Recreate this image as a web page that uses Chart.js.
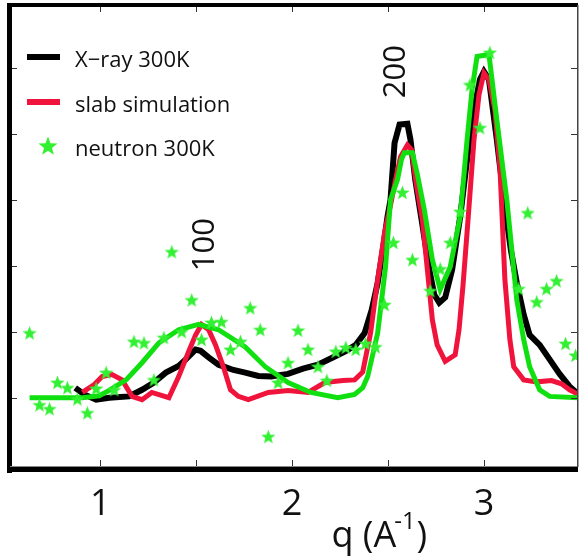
<!DOCTYPE html>
<html>
<head>
<meta charset="utf-8">
<script src="https://cdn.jsdelivr.net/npm/chart.js@4"></script>
<style>
  html, body { margin: 0; padding: 0; background: #fff; }
  #wrap { width: 583px; height: 560px; }
</style>
</head>
<body>
<div id="wrap"><canvas id="chart" width="583" height="560"></canvas></div>
<script>
// X-ray 300K (q, intensity)
const xrayQ = [0.870, 0.917, 0.979, 1.047, 1.150, 1.218, 1.280, 1.342, 1.409, 1.446, 1.497, 1.523, 1.565, 1.617, 1.694, 1.756, 1.824, 1.891, 1.979, 2.057, 2.135, 2.212, 2.275, 2.332, 2.378, 2.415, 2.446, 2.477, 2.497, 2.513, 2.534, 2.560, 2.601, 2.617, 2.642, 2.679, 2.715, 2.741, 2.767, 2.798, 2.834, 2.876, 2.912, 2.948, 2.979, 3.000, 3.026, 3.067, 3.104, 3.140, 3.171, 3.207, 3.238, 3.290, 3.342, 3.394, 3.446, 3.492];
const xrayI = [0.15, 0.05, -0.03, 0.00, 0.02, 0.12, 0.23, 0.38, 0.48, 0.58, 0.73, 0.71, 0.61, 0.50, 0.42, 0.38, 0.33, 0.32, 0.36, 0.44, 0.50, 0.61, 0.70, 0.80, 0.98, 1.33, 1.74, 2.32, 2.74, 3.00, 3.86, 4.14, 4.15, 3.91, 3.30, 2.62, 1.94, 1.56, 1.44, 1.52, 1.94, 2.74, 3.61, 4.36, 4.82, 4.94, 4.82, 3.91, 3.00, 2.24, 1.74, 1.26, 0.95, 0.80, 0.58, 0.36, 0.17, 0.05];

// slab simulation
const slabQ = [0.907, 0.969, 1.010, 1.062, 1.114, 1.166, 1.218, 1.269, 1.358, 1.409, 1.461, 1.497, 1.528, 1.565, 1.601, 1.642, 1.679, 1.720, 1.772, 1.876, 1.979, 2.083, 2.171, 2.264, 2.326, 2.368, 2.409, 2.446, 2.482, 2.513, 2.539, 2.565, 2.601, 2.622, 2.648, 2.679, 2.705, 2.731, 2.756, 2.798, 2.850, 2.870, 2.891, 2.917, 2.948, 2.974, 3.000, 3.026, 3.057, 3.083, 3.109, 3.135, 3.155, 3.207, 3.275, 3.352, 3.404, 3.446, 3.492];
const slabI = [0.08, 0.20, 0.32, 0.35, 0.27, 0.02, -0.03, 0.08, 0.00, 0.32, 0.70, 0.95, 1.11, 1.03, 0.80, 0.47, 0.12, 0.02, -0.03, 0.08, 0.11, 0.08, 0.23, 0.26, 0.27, 0.39, 0.98, 1.79, 2.50, 2.92, 3.30, 3.65, 3.83, 3.76, 3.23, 2.70, 1.94, 1.18, 0.80, 0.55, 0.65, 1.03, 1.71, 2.70, 3.91, 4.59, 4.92, 4.82, 4.36, 3.50, 1.79, 0.88, 0.47, 0.27, 0.24, 0.26, 0.21, 0.12, 0.05];

// neutron 300K fit (green line)
const fitQ = [0.632, 0.907, 0.995, 1.047, 1.135, 1.218, 1.306, 1.409, 1.513, 1.617, 1.756, 1.860, 1.979, 2.098, 2.238, 2.326, 2.368, 2.394, 2.420, 2.446, 2.487, 2.513, 2.549, 2.570, 2.585, 2.627, 2.653, 2.689, 2.731, 2.772, 2.824, 2.876, 2.912, 2.938, 2.964, 3.026, 3.067, 3.119, 3.171, 3.207, 3.238, 3.290, 3.342, 3.492];
const fitI = [0.00, 0.00, 0.03, 0.11, 0.27, 0.53, 0.83, 1.03, 1.11, 1.03, 0.77, 0.47, 0.23, 0.08, 0.00, 0.05, 0.15, 0.32, 0.65, 0.98, 1.98, 3.00, 3.30, 3.61, 3.71, 3.71, 3.38, 2.85, 2.09, 1.64, 1.98, 2.74, 3.91, 4.67, 5.17, 5.20, 4.21, 3.00, 1.48, 0.88, 0.47, 0.12, 0.02, 0.00];

// neutron 300K points (stars)
const neutronQ = [0.632, 0.684, 0.736, 0.777, 0.829, 0.881, 0.933, 0.979, 1.031, 1.073, 1.176, 1.228, 1.280, 1.332, 1.373, 1.425, 1.477, 1.528, 1.580, 1.632, 1.679, 1.731, 1.782, 1.834, 1.876, 1.927, 1.979, 2.031, 2.083, 2.135, 2.181, 2.228, 2.280, 2.332, 2.383, 2.435, 2.482, 2.528, 2.575, 2.627, 2.720, 2.772, 2.824, 2.876, 2.927, 2.979, 3.031, 3.181, 3.228, 3.275, 3.326, 3.378, 3.425, 3.477];
const neutronI = [0.98, -0.11, -0.17, 0.23, 0.15, -0.02, -0.23, 0.14, 0.38, 0.12, 0.85, 0.83, 0.27, 0.91, 2.21, 1.00, 1.48, 0.88, 1.14, 1.15, 0.73, 0.85, 1.36, 1.03, -0.59, 0.23, 0.53, 1.02, 0.73, 0.47, 0.26, 0.70, 0.76, 0.73, 0.82, 0.77, 1.41, 2.35, 3.11, 2.09, 1.62, 1.95, 2.35, 2.82, 4.74, 4.09, 5.23, 1.65, 2.80, 1.45, 1.65, 1.77, 0.82, 0.64];

const seriesNames = ['X\u2212ray 300K', 'slab simulation', 'neutron 300K'];
const xTicks = [1, 1.5, 2, 2.5, 3];
const xTickLabels = ['1', '', '2', '', '3'];
const yTicks = [0, 1, 2, 3, 4, 5];
const peakNames = ['100', '200'];
const peakQ = [1.539, 2.534];
const peakI = [2.32, 4.94];

const BLACK = '#000000';
const RED = '#f0143c';
const GREEN = '#10e010';
const STAR = '#33f033';
const FONT = "'Open Sans', sans-serif";

function pairs(xs, ys) {
    return xs.map((x, i) => ({ x: x, y: ys[i] }));
}

// filled five point star for the neutron points
function makeStar(size, color) {
    const c = document.createElement('canvas');
    c.width = size;
    c.height = size;
    const g = c.getContext('2d');
    const r = size / 2, ri = r * 0.42;
    g.beginPath();
    for (let i = 0; i < 10; i++) {
        const a = -Math.PI / 2 + i * Math.PI / 5;
        const rr = i % 2 ? ri : r;
        g.lineTo(r + rr * Math.cos(a), r + rr * Math.sin(a) + 0.6);
    }
    g.closePath();
    g.fillStyle = color;
    g.fill();
    return c;
}
const starImg = makeStar(15, STAR);
const starLegend = makeStar(20, STAR);

// frame, inward ticks, labels, peak names and legend
const decorations = {
    id: 'decorations',
    beforeDraw(chart) {
        const ctx = chart.ctx;
        ctx.save();
        ctx.fillStyle = '#fff';
        ctx.fillRect(0, 0, chart.width, chart.height);
        ctx.restore();
    },
    afterDraw(chart) {
        const ctx = chart.ctx;
        const a = chart.chartArea;
        const xs = chart.scales.x, ys = chart.scales.y;
        ctx.save();

        // ticks
        ctx.strokeStyle = '#333';
        ctx.lineWidth = 1;
        ctx.beginPath();
        xTicks.forEach(v => {
            const px = Math.round(xs.getPixelForValue(v)) + 0.5;
            ctx.moveTo(px, a.top); ctx.lineTo(px, a.top + 7);
            ctx.moveTo(px, a.bottom); ctx.lineTo(px, a.bottom - 7);
        });
        yTicks.forEach(v => {
            const py = Math.round(ys.getPixelForValue(v)) + 0.5;
            ctx.moveTo(a.left, py); ctx.lineTo(a.left + 7, py);
            ctx.moveTo(a.right, py); ctx.lineTo(a.right - 7, py);
        });
        ctx.stroke();

        // frame
        ctx.fillStyle = BLACK;
        ctx.fillRect(a.left - 3, a.top - 2, a.right - a.left + 3, 4);     // top
        ctx.fillRect(a.left - 3, a.top - 2, 5, a.bottom - a.top + 8);     // left
        ctx.fillRect(a.left - 3, a.bottom, a.right - a.left + 3, 5);      // bottom
        ctx.fillStyle = '#888';
        ctx.fillRect(a.left, a.bottom - 1, a.right - a.left, 1);
        ctx.fillStyle = '#444';
        ctx.fillRect(a.right - 1, a.top, 1.5, a.bottom - a.top);          // right

        // x tick labels
        ctx.fillStyle = '#111';
        ctx.font = '36px ' + FONT;
        ctx.textAlign = 'center';
        ctx.textBaseline = 'alphabetic';
        xTicks.forEach((v, i) => {
            if (xTickLabels[i]) ctx.fillText(xTickLabels[i], xs.getPixelForValue(v), a.bottom + 48);
        });

        // axis title q (A^-1)
        ctx.textAlign = 'left';
        let tx = xs.getPixelForValue(2.205);
        const ty = a.bottom + 80;
        ctx.font = '36px ' + FONT;
        ctx.fillText('q (A', tx, ty);
        tx += ctx.measureText('q (A').width - 2;
        ctx.font = '24px ' + FONT;
        ctx.fillText('-1', tx, ty - 18);
        tx += ctx.measureText('-1').width + 1;
        ctx.font = '36px ' + FONT;
        ctx.fillText(')', tx, ty);

        // peak names, rotated
        ctx.font = '31px ' + FONT;
        ctx.textAlign = 'center';
        ctx.textBaseline = 'middle';
        peakNames.forEach((t, i) => {
            ctx.save();
            ctx.translate(xs.getPixelForValue(peakQ[i]), ys.getPixelForValue(peakI[i]));
            ctx.rotate(-Math.PI / 2);
            ctx.fillText(t, 0, 2);
            ctx.restore();
        });

        // legend
        const colors = [BLACK, RED, null];
        const rowY = [57, 102, 146];
        ctx.font = '22px ' + FONT;
        ctx.textAlign = 'left';
        ctx.textBaseline = 'middle';
        seriesNames.forEach((name, i) => {
            const y = rowY[i];
            if (colors[i]) {
                ctx.fillStyle = colors[i];
                ctx.fillRect(27, y - 3, 33, 6);
            } else {
                ctx.drawImage(starLegend, 48 - 10, y - 10);
            }
            ctx.fillStyle = '#111';
            ctx.fillText(name, 75, y + 4);
        });
        ctx.restore();
    }
};

new Chart(document.getElementById('chart'), {
    type: 'scatter',
    data: {
        datasets: [
            {
                label: seriesNames[2],
                data: pairs(neutronQ, neutronI),
                pointStyle: starImg,
                showLine: false,
                order: 0
            },
            {
                label: 'fit',
                data: pairs(fitQ, fitI),
                showLine: true,
                borderColor: GREEN,
                borderWidth: 5,
                pointRadius: 0,
                tension: 0,
                order: 1
            },
            {
                label: seriesNames[1],
                data: pairs(slabQ, slabI),
                showLine: true,
                borderColor: RED,
                borderWidth: 5,
                pointRadius: 0,
                tension: 0,
                order: 2
            },
            {
                label: seriesNames[0],
                data: pairs(xrayQ, xrayI),
                showLine: true,
                borderColor: BLACK,
                borderWidth: 6,
                pointRadius: 0,
                tension: 0,
                order: 3
            }
        ]
    },
    options: {
        responsive: false,
        animation: false,
        layout: { padding: { left: 10, right: 1, top: 5, bottom: 93 } },
        scales: {
            x: { type: 'linear', min: 0.53, max: 3.49, display: false },
            y: { type: 'linear', min: -1.05, max: 5.95, display: false }
        },
        plugins: {
            legend: { display: false },
            tooltip: { enabled: false }
        }
    },
    plugins: [decorations]
});
</script>
</body>
</html>
